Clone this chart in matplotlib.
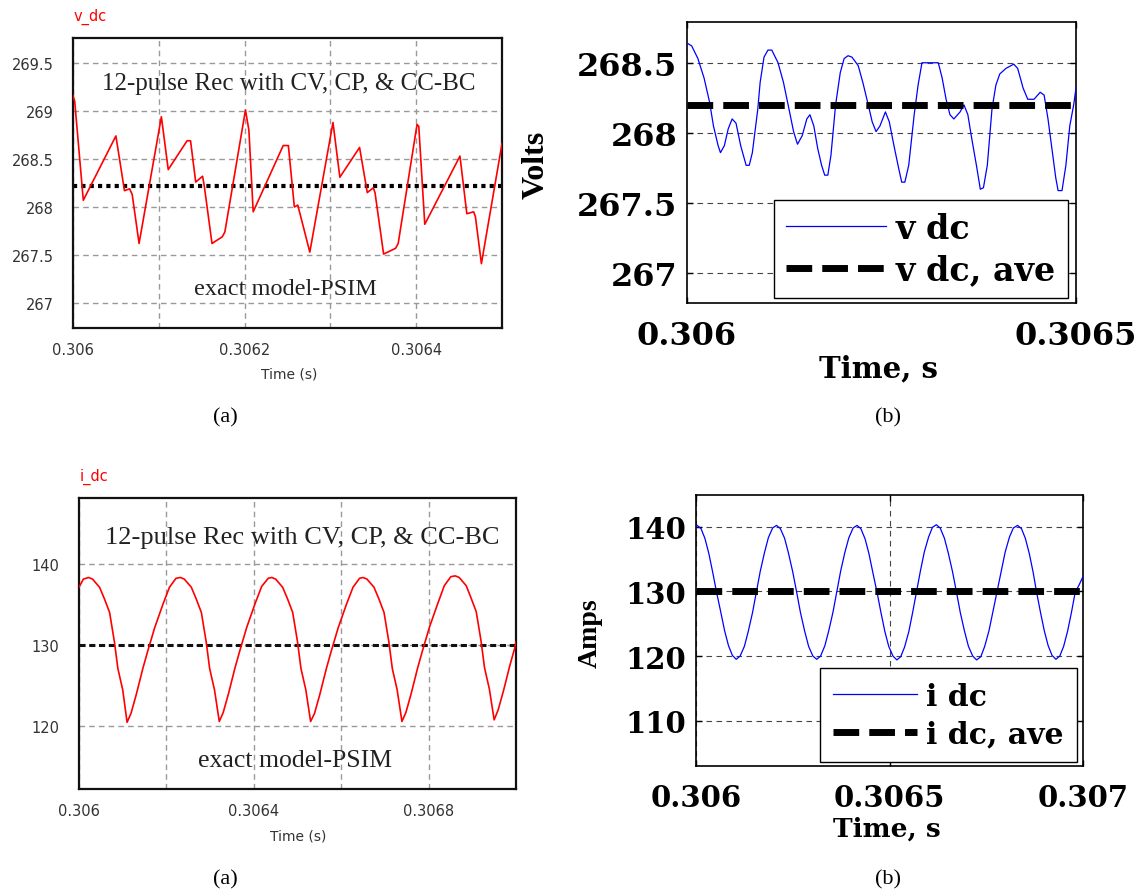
import matplotlib.pyplot as plt

W, H = 1145, 895

# ---------------- data ----------------
# (a) top: PSIM exact model, v_dc [V]
t_va = [0.306000, 0.306002, 0.306012, 0.306050, 0.306060, 0.306066, 0.306069, 0.306077,
        0.306103, 0.306111, 0.306133, 0.306137, 0.306143, 0.306151, 0.306153, 0.306162,
        0.306174, 0.306177, 0.306201, 0.306205, 0.306210, 0.306245, 0.306251, 0.306258,
        0.306262, 0.306276, 0.306303, 0.306311, 0.306334, 0.306343, 0.306350, 0.306352,
        0.306362, 0.306376, 0.306379, 0.306401, 0.306403, 0.306410, 0.306451, 0.306459,
        0.306467, 0.306469, 0.306476, 0.306500]
v_va = [269.16, 269.10, 268.07, 268.74, 268.17, 268.19, 268.13, 267.62,
        268.94, 268.39, 268.69, 268.69, 268.26, 268.32, 268.22, 267.62,
        267.69, 267.74, 269.01, 268.80, 267.95, 268.64, 268.64, 268.00,
        268.02, 267.53, 268.88, 268.31, 268.62, 268.15, 268.20, 268.15,
        267.51, 267.57, 267.62, 268.86, 268.84, 267.82, 268.53, 267.93,
        267.95, 267.90, 267.41, 268.66]
v_ave_a = 268.22

# (a) bottom: PSIM exact model, i_dc [A]
t_ia = [0.306000, 0.306010, 0.306022, 0.306031, 0.306047, 0.306058, 0.306070, 0.306081,
        0.306089, 0.306100, 0.306110,
        0.306119, 0.306131, 0.306146, 0.306157, 0.306173, 0.306192, 0.306207, 0.306222,
        0.306232, 0.306241, 0.306257, 0.306268, 0.306280, 0.306291, 0.306299, 0.306310,
        0.306321,
        0.306330, 0.306342, 0.306357, 0.306368, 0.306384, 0.306403, 0.306418, 0.306433,
        0.306441, 0.306450, 0.306466, 0.306477, 0.306489, 0.306500, 0.306508, 0.306519,
        0.306530,
        0.306539, 0.306551, 0.306566, 0.306577, 0.306593, 0.306612, 0.306627, 0.306642,
        0.306650, 0.306659, 0.306675, 0.306686, 0.306698, 0.306709, 0.306717, 0.306728,
        0.306739,
        0.306748, 0.306760, 0.306775, 0.306786, 0.306802, 0.306821, 0.306836, 0.306851,
        0.306861, 0.306870, 0.306886, 0.306897, 0.306909, 0.306920, 0.306928, 0.306939,
        0.306950,
        0.306959, 0.306971, 0.306986, 0.306997, 0.307000]
i_ia = [137.1, 138.1, 138.3, 138.1, 137.1, 135.7, 134.0, 130.4,
        127.1, 124.5, 120.5,
        121.6, 123.9, 127.1, 129.2, 132.1, 135.0, 137.1, 138.2,
        138.3, 138.1, 137.1, 135.7, 134.0, 130.4, 127.1, 124.5,
        120.6,
        121.7, 124.0, 127.2, 129.3, 132.2, 135.1, 137.2, 138.2,
        138.3, 138.1, 137.1, 135.7, 134.0, 130.4, 127.1, 124.5,
        120.6,
        121.6, 123.9, 127.1, 129.2, 132.1, 135.0, 137.1, 138.2,
        138.3, 138.1, 137.1, 135.7, 134.0, 130.4, 127.1, 124.5,
        120.6,
        121.7, 124.0, 127.2, 129.3, 132.2, 135.1, 137.3, 138.4,
        138.5, 138.3, 137.3, 135.8, 134.1, 130.5, 127.2, 124.6,
        120.8,
        122.0, 124.3, 127.5, 129.6, 130.4]
i_ave_a = 130.0

# (b) top: averaged model, v dc [V]
t_vb = [0.306000, 0.306006, 0.306014, 0.306022, 0.306029, 0.306034, 0.306040, 0.306043,
        0.306048, 0.306053, 0.306058, 0.306063, 0.306069, 0.306076, 0.306080, 0.306084,
        0.306091, 0.306094, 0.306099, 0.306104, 0.306109, 0.306117, 0.306124, 0.306130,
        0.306137, 0.306142, 0.306148, 0.306154, 0.306158, 0.306163, 0.306168, 0.306173,
        0.306177, 0.306181, 0.306185, 0.306191, 0.306197, 0.306202, 0.306207, 0.306212,
        0.306220, 0.306226, 0.306233, 0.306238, 0.306243, 0.306248, 0.306255, 0.306260,
        0.306266, 0.306272, 0.306276, 0.306280, 0.306285, 0.306292, 0.306297, 0.306302,
        0.306310, 0.306323, 0.306328, 0.306333, 0.306338, 0.306343, 0.306351, 0.306356,
        0.306361, 0.306366, 0.306372, 0.306377, 0.306381, 0.306386, 0.306392, 0.306397,
        0.306402, 0.306410, 0.306420, 0.306425, 0.306432, 0.306438, 0.306446, 0.306454,
        0.306459, 0.306464, 0.306469, 0.306474, 0.306477, 0.306482, 0.306487, 0.306492,
        0.306497, 0.306500]
v_vb = [268.64, 268.62, 268.53, 268.39, 268.22, 268.05, 267.91, 267.86,
        267.91, 268.03, 268.10, 268.07, 267.91, 267.77, 267.77, 267.86,
        268.17, 268.36, 268.54, 268.59, 268.59, 268.50, 268.36, 268.20,
        268.01, 267.92, 267.98, 268.10, 268.13, 268.05, 267.89, 267.77,
        267.70, 267.70, 267.84, 268.20, 268.43, 268.53, 268.55, 268.54,
        268.48, 268.36, 268.20, 268.08, 268.01, 268.05, 268.15, 268.08,
        267.91, 267.75, 267.65, 267.65, 267.77, 268.13, 268.34, 268.50,
        268.50, 268.50, 268.39, 268.24, 268.13, 268.10, 268.15, 268.20,
        268.13, 267.96, 267.77, 267.60, 267.61, 267.77, 268.17, 268.34,
        268.42, 268.46, 268.49, 268.46, 268.32, 268.24, 268.24, 268.29,
        268.27, 268.10, 267.89, 267.68, 267.59, 267.59, 267.77, 268.05,
        268.20, 268.32]
v_ave_b = 268.2

# (b) bottom: averaged model, i dc [A]
t_ib = [0.306000, 0.306003, 0.306013, 0.306023, 0.306033, 0.306043, 0.306053, 0.306064,
        0.306074, 0.306084, 0.306094, 0.306104, 0.306114, 0.306125, 0.306135, 0.306146,
        0.306156, 0.306166, 0.306177, 0.306187, 0.306198, 0.306208, 0.306218, 0.306229,
        0.306239, 0.306250, 0.306260, 0.306270, 0.306281, 0.306291, 0.306302, 0.306312,
        0.306322, 0.306333, 0.306343, 0.306354, 0.306364, 0.306374, 0.306385, 0.306395,
        0.306406, 0.306416, 0.306426, 0.306437, 0.306447, 0.306457, 0.306468, 0.306478,
        0.306488, 0.306498, 0.306509, 0.306519, 0.306529, 0.306539, 0.306550, 0.306560,
        0.306570, 0.306580, 0.306590, 0.306601, 0.306611, 0.306621, 0.306631, 0.306642,
        0.306652, 0.306663, 0.306673, 0.306683, 0.306694, 0.306704, 0.306715, 0.306725,
        0.306736, 0.306746, 0.306757, 0.306767, 0.306778, 0.306789, 0.306799, 0.306810,
        0.306820, 0.306831, 0.306841, 0.306851, 0.306861, 0.306871, 0.306880, 0.306890,
        0.306900, 0.306910, 0.306920, 0.306930, 0.306940, 0.306950, 0.306960, 0.306970,
        0.306980, 0.306990, 0.307000]
i_ib = [140.1, 140.2, 139.7, 138.2, 135.9, 133.0, 129.9, 126.8,
        123.9, 121.6, 120.1, 119.5, 120.0, 121.5, 123.8, 126.7,
        129.9, 133.1, 136.0, 138.3, 139.8, 140.2, 139.7, 138.2,
        135.9, 133.0, 129.9, 126.7, 123.8, 121.5, 120.0, 119.5,
        120.0, 121.6, 123.9, 126.8, 130.0, 133.2, 136.1, 138.3,
        139.8, 140.2, 139.7, 138.1, 135.8, 132.9, 129.8, 126.7,
        123.8, 121.5, 120.0, 119.4, 119.9, 121.4, 123.8, 126.8,
        130.0, 133.2, 136.1, 138.4, 139.9, 140.3, 139.8, 138.2,
        135.9, 133.0, 129.9, 126.7, 123.8, 121.5, 120.0, 119.4,
        119.9, 121.5, 123.9, 126.8, 130.0, 133.2, 136.1, 138.4,
        139.8, 140.2, 139.7, 138.2, 135.9, 133.0, 129.9, 126.8,
        123.9, 121.6, 120.1, 119.5, 120.0, 121.5, 123.8, 126.7,
        129.9, 131.0, 132.3]
i_ave_b = 130.0

# tick values / labels
xg_va = [0.3060, 0.3061, 0.3062, 0.3063, 0.3064, 0.3065]
xl_va = ["0.306", "", "0.3062", "", "0.3064", ""]
yg_va = [267, 267.5, 268, 268.5, 269, 269.5]
yl_va = ["267", "267.5", "268", "268.5", "269", "269.5"]
xg_ia = [0.3060, 0.3062, 0.3064, 0.3066, 0.3068, 0.3070]
xl_ia = ["0.306", "", "0.3064", "", "0.3068", ""]
yg_ia = [120, 130, 140]
yl_ia = ["120", "130", "140"]
xg_vb = [0.306, 0.3065]
xl_vb = ["0.306", "0.3065"]
yg_vb = [267, 267.5, 268, 268.5]
yl_vb = ["267", "267.5", "268", "268.5"]
xg_ib = [0.306, 0.3065, 0.307]
xl_ib = ["0.306", "0.3065", "0.307"]
yg_ib = [110, 120, 130, 140]
yl_ib = ["110", "120", "130", "140"]

note1 = "12-pulse Rec with CV, CP, & CC-BC"
note2 = "exact model-PSIM"

fig = plt.figure(figsize=(W / 100, H / 100), dpi=100)


def rect(l, t, r, b):
    return [l / W, 1 - b / H, (r - l) / W, (b - t) / H]


def ftext(x, y, s, **kw):
    fig.text(x / W, 1 - y / H, s, **kw)


SERIF = "Liberation Serif"
BSERIF = "DejaVu Serif"


def psim_axes(box, xg, xl, yg, yl, xlim, ylim):
    ax = fig.add_axes(rect(*box))
    ax.set_xlim(*xlim)
    ax.set_ylim(*ylim)
    ax.set_xticks(xg)
    ax.set_xticklabels(xl)
    ax.set_yticks(yg)
    ax.set_yticklabels(yl)
    ax.tick_params(length=0, labelsize=10.5, labelcolor="#333333")
    ax.tick_params(axis="x", pad=10)
    ax.tick_params(axis="y", pad=14)
    for lab in ax.get_xticklabels() + ax.get_yticklabels():
        lab.set_family("DejaVu Sans")
    ax.grid(True, color="#999999", linestyle=(0, (4, 3)), linewidth=1.0)
    for s in ax.spines.values():
        s.set_linewidth(1.6)
        s.set_color("#111111")
    return ax


# ---------- (a) top ----------
ax1 = psim_axes((73, 39, 502, 329), xg_va, xl_va, yg_va, yl_va,
                (0.306, 0.3065), (266.74, 269.76))
ax1.plot(t_va, v_va, color="red", lw=1.2, zorder=3)
ax1.axhline(v_ave_a, color="black", lw=3, linestyle=(0, (1, 1)), zorder=2)
ftext(74, 17, "v_dc", color="red", fontsize=10.5, va="center")
ftext(289, 90, note1, family=SERIF, fontsize=18, ha="center", va="baseline", color="#222222")
ftext(285, 295, note2, family=SERIF, fontsize=17.5, ha="center", va="baseline", color="#222222")
ftext(289, 374, "Time (s)", fontsize=10, ha="center", va="center", color="#333333")

# ---------- (a) bottom ----------
ax2 = psim_axes((79, 499, 516, 790), xg_ia, xl_ia, yg_ia, yl_ia,
                (0.306, 0.307), (112.3, 148.07))
ax2.plot(t_ia, i_ia, color="red", lw=1.2, zorder=3)
ax2.axhline(i_ave_a, color="#111111", lw=2.2, linestyle=(0, (2, 1.2)), zorder=2)
ftext(80, 477, "i_dc", color="red", fontsize=10.5, va="center")
ftext(302, 544, note1, family=SERIF, fontsize=19, ha="center", va="baseline", color="#222222")
ftext(295, 767, note2, family=SERIF, fontsize=18.5, ha="center", va="baseline", color="#222222")
ftext(298, 837, "Time (s)", fontsize=10, ha="center", va="center", color="#333333")


def matlab_axes(box, xg, xl, yg, yl, xlim, ylim, fs, xgrid):
    ax = fig.add_axes(rect(*box))
    ax.set_xlim(*xlim)
    ax.set_ylim(*ylim)
    ax.set_xticks(xg)
    ax.set_xticklabels(xl)
    ax.set_yticks(yg)
    ax.set_yticklabels(yl)
    ax.tick_params(direction="in", length=4, width=1, top=True, right=True,
                   labelsize=fs)
    ax.tick_params(axis="x", pad=12)
    ax.tick_params(axis="y", pad=7)
    for lab in ax.get_xticklabels() + ax.get_yticklabels():
        lab.set_family(BSERIF)
        lab.set_fontweight("bold")
    ax.grid(True, axis="y", color="#444444", linestyle=(0, (5, 4)), linewidth=0.8)
    if xgrid:
        ax.grid(True, axis="x", color="#444444", linestyle=(0, (5, 4)), linewidth=0.8)
    for s in ax.spines.values():
        s.set_linewidth(1.2)
        s.set_color("black")
    return ax


# ---------- (b) top ----------
ax3 = matlab_axes((687, 23, 1076, 304), xg_vb, xl_vb, yg_vb, yl_vb,
                  (0.306, 0.3065), (266.79, 268.79), 23, False)
ax3.plot(t_vb, v_vb, color="#0000ff", lw=0.9, label="v dc", zorder=3)
ax3.axhline(v_ave_b, color="black", lw=5, linestyle=(0, (3.7, 1.45)),
            label="v dc, ave", zorder=4)
leg = ax3.legend(loc="lower right", bbox_to_anchor=(0.979, 0.018), borderaxespad=0,
                 fancybox=False, framealpha=1, edgecolor="black", handlelength=3.0,
                 labelspacing=0.25, borderpad=0.35, handletextpad=0.3,
                 prop={"family": BSERIF, "weight": "bold", "size": 24})
leg.get_frame().set_linewidth(1.0)
ftext(536, 165, "Volts", family=SERIF, fontweight="bold", fontsize=23,
      rotation=90, ha="center", va="center")
ftext(879, 369, "Time, s", family=BSERIF, fontweight="bold", fontsize=21,
      ha="center", va="center")

# ---------- (b) bottom ----------
ax4 = matlab_axes((696, 496, 1083, 767), xg_ib, xl_ib, yg_ib, yl_ib,
                  (0.306, 0.307), (103.0, 144.9), 21, True)
ax4.plot(t_ib, i_ib, color="#0000ff", lw=0.9, label="i dc", zorder=3)
ax4.axhline(i_ave_b, color="black", lw=5, linestyle=(0, (3.7, 1.45)),
            label="i dc, ave", zorder=4)
leg = ax4.legend(loc="lower right", bbox_to_anchor=(0.984, 0.015), borderaxespad=0,
                 fancybox=False, framealpha=1, edgecolor="black", handlelength=2.8,
                 labelspacing=0.3, borderpad=0.45, handletextpad=0.3,
                 prop={"family": BSERIF, "weight": "bold", "size": 21.5})
leg.get_frame().set_linewidth(1.0)
ftext(590, 633, "Amps", family=SERIF, fontweight="bold", fontsize=20,
      rotation=90, ha="center", va="center")
ftext(887, 829, "Time, s", family=BSERIF, fontweight="bold", fontsize=19,
      ha="center", va="center")

# ---------- captions ----------
for x, y, s in [(225, 418, "(a)"), (888, 418, "(b)"), (225, 880, "(a)"), (888, 880, "(b)")]:
    ftext(x, y, s, family=SERIF, fontsize=16, ha="center", va="center")

fig.savefig("out.png", dpi=100)
